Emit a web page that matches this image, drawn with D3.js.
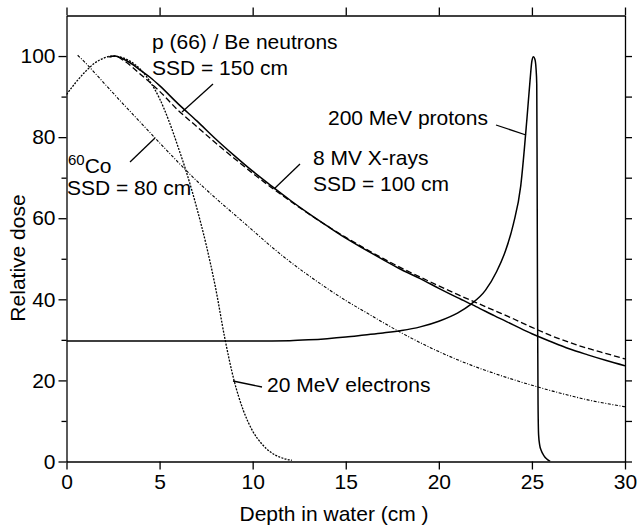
<!DOCTYPE html>
<html>
<head>
<meta charset="utf-8">
<script src="https://cdn.jsdelivr.net/npm/d3@7"></script>
<style>
  html, body { margin: 0; padding: 0; background: #fff; }
  svg { display: block; font-family: "Liberation Sans", Arial, Helvetica, sans-serif; }
</style>
</head>
<body>
<svg id="chart" width="642" height="526"></svg>
<script>
// ---- Data ----
const xTicks = [0, 5, 10, 15, 20, 25, 30];
const yTicksMajor = [0, 20, 40, 60, 80, 100];
const yTicksMinor = [10, 30, 50, 70, 90];
const yTicksRight = [0, 10, 20, 30, 40, 50, 60, 70, 80, 90, 100];

// 8 MV X-rays, SSD = 100 cm (solid)
const xray8Depth = [2.3, 2.6, 3, 3.5, 4, 4.5, 5, 6, 7, 8, 9, 10, 11, 12, 13, 14, 15, 16, 17, 18, 19, 20, 21, 22, 23, 24, 25, 26, 27, 28, 29, 30];
const xray8Dose  = [99.8, 100, 99.4, 98.1, 96.4, 94.7, 92.7, 88.2, 84, 79.6, 75.5, 71.6, 68, 64.5, 61.2, 58.1, 55.1, 52.4, 49.8, 47.3, 45.1, 42.7, 40.4, 38.2, 35.9, 33.7, 31.5, 29.6, 27.8, 26.3, 24.9, 23.6];

// p(66)/Be neutrons, SSD = 150 cm (dashed)
const neutronDepth = [2.3, 2.6, 3, 3.5, 4, 4.5, 5, 6, 7, 8, 9, 10, 11, 12, 13, 14, 15, 16, 17, 18, 19, 20, 21, 22, 23, 24, 25, 26, 27, 28, 29, 30];
const neutronDose  = [99.8, 100, 99.1, 97.4, 95.4, 93.4, 91.3, 86.6, 82.6, 78.6, 74.8, 71.1, 67.6, 64.3, 61.1, 58.1, 55.3, 52.6, 50.1, 47.7, 45.5, 43.3, 41.2, 39.2, 37.2, 35.2, 33.1, 31.1, 29.4, 27.9, 26.6, 25.3];

// 60Co, SSD = 80 cm (dash-dot)
const cobaltDepth = [0.6, 1, 2, 3, 4, 5, 6, 7, 8, 9, 10, 11, 12, 13, 14, 15, 16, 17, 18, 19, 20, 21, 22, 23, 24, 25, 26, 27, 28, 29, 30];
const cobaltDose  = [100.2, 98.4, 93.4, 88.4, 83.5, 78.6, 73.8, 69.2, 65, 61, 57, 53, 49.3, 45.9, 42.7, 39.7, 37, 34.3, 31.7, 29.3, 27.1, 25.1, 23.3, 21.7, 20.2, 18.8, 17.5, 16.3, 15.2, 14.3, 13.5];

// 20 MeV electrons (dotted)
const electronDepth = [0, 0.5, 1, 1.5, 2, 2.5, 3, 3.5, 4, 4.5, 5, 5.5, 6, 6.5, 7, 7.5, 8, 8.5, 9, 9.5, 10, 10.5, 11, 11.5, 12.1];
const electronDose  = [90.5, 93.5, 96.1, 98.2, 99.5, 100, 99.6, 98.5, 96.6, 93.6, 89.5, 84, 77.5, 70.5, 62.5, 53.5, 43, 30.5, 20, 12.6, 7.5, 4.3, 2.2, 1.0, 0.3];

// 200 MeV protons (solid)
const protonDepth = [0, 5, 10, 12, 13, 14, 15, 16, 17, 18, 19, 20, 21, 21.7, 22.5, 23.1, 23.6, 24, 24.4, 24.73, 24.9, 25.0, 25.08, 25.16, 25.22, 25.26, 25.28, 25.3, 25.33, 25.36, 25.42, 25.5, 25.65, 25.8, 25.98];
const protonDose  = [29.7, 29.7, 29.7, 29.8, 30, 30.3, 30.7, 31.2, 31.7, 32.3, 33.2, 34.6, 36.6, 38.7, 42.2, 46.8, 52.2, 58.5, 68, 84.4, 94, 98.8, 99.8, 99.2, 97, 93, 70, 40, 14, 6.5, 4, 2.7, 1.4, 0.6, 0];

// ---- Layout ----
const svg = d3.select("#chart");
const X0 = 66.5, X1 = 625, Y0 = 461.5, Y1 = 15.5;
const x = d3.scaleLinear().domain([0, 30]).range([X0, X1]);
const y = d3.scaleLinear().domain([0, 110]).range([Y0, Y1]);
const FS = 21;

// Axes
const axisStyle = g => {
  g.selectAll("path.domain").attr("stroke", "#000").attr("stroke-width", 1.3);
  g.selectAll(".tick line").attr("stroke", "#000").attr("stroke-width", 1.3);
  g.selectAll(".tick text").attr("fill", "#000").attr("font-size", FS)
    .attr("font-family", '"Liberation Sans", Arial, sans-serif');
};

svg.append("g").attr("transform", `translate(0,${Y0})`)
  .call(d3.axisBottom(x).tickValues(xTicks).tickSize(8).tickSizeOuter(0).tickPadding(5).tickFormat(d3.format("d")))
  .call(axisStyle);
svg.append("g").attr("transform", `translate(0,${Y1})`)
  .call(d3.axisTop(x).tickValues(xTicks).tickSize(8).tickSizeOuter(0).tickFormat(""))
  .call(axisStyle);
svg.append("g").attr("transform", `translate(${X0},0)`)
  .call(d3.axisLeft(y).tickValues(yTicksMajor).tickSize(8).tickSizeOuter(0).tickPadding(3).tickFormat(d3.format("d")))
  .call(axisStyle);
svg.append("g").attr("transform", `translate(${X0},0)`)
  .call(d3.axisLeft(y).tickValues(yTicksMinor).tickSize(5).tickSizeOuter(0).tickFormat(""))
  .call(axisStyle)
  .call(g => g.select("path.domain").remove());
svg.append("g").attr("transform", `translate(${X1},0)`)
  .call(d3.axisRight(y).tickValues(yTicksRight).tickSize(7).tickSizeOuter(0).tickFormat(""))
  .call(axisStyle);

// Axis titles
svg.append("text").attr("x", 334).attr("y", 521)
  .attr("text-anchor", "middle").attr("font-size", FS).text("Depth in water (cm )");
svg.append("text").attr("transform", `translate(25,258) rotate(-90)`)
  .attr("text-anchor", "middle").attr("font-size", FS).text("Relative dose");

// Curves
svg.append("clipPath").attr("id", "clip").append("rect")
  .attr("x", X0).attr("y", Y1).attr("width", X1 - X0).attr("height", Y0 - Y1);
const curves = svg.append("g").attr("clip-path", "url(#clip)");

function drawCurve(depth, dose, curve, width, dash) {
  const pts = depth.map((d, i) => [d, dose[i]]);
  const line = d3.line().x(d => x(d[0])).y(d => y(d[1])).curve(curve);
  curves.append("path").attr("d", line(pts)).attr("fill", "none")
    .attr("stroke", "#000").attr("stroke-width", width)
    .attr("stroke-dasharray", dash || null);
}
drawCurve(cobaltDepth, cobaltDose, d3.curveMonotoneX, 1.1, "3,1.6,1,1.6");
drawCurve(electronDepth, electronDose, d3.curveMonotoneX, 1.3, "2,1.3");
drawCurve(neutronDepth, neutronDose, d3.curveMonotoneX, 1.3, "6,3");
drawCurve(xray8Depth, xray8Dose, d3.curveMonotoneX, 1.5, null);
drawCurve(protonDepth, protonDose, d3.curveMonotoneX, 1.5, null);

// Labels and leader lines
const ann = svg.append("g").attr("font-size", FS).attr("fill", "#000");
function leader(x1, y1, x2, y2) {
  svg.append("line").attr("x1", x1).attr("y1", y1).attr("x2", x2).attr("y2", y2)
    .attr("stroke", "#000").attr("stroke-width", 1.3);
}
ann.append("text").attr("x", 152).attr("y", 49).text("p (66) / Be neutrons");
ann.append("text").attr("x", 152).attr("y", 75).text("SSD = 150 cm");
leader(213, 84, 182, 112);

const co = ann.append("text").attr("x", 68).attr("y", 173);
co.append("tspan").attr("font-size", 15).attr("dy", -8).text("60");
co.append("tspan").attr("dy", 8).text("Co");
ann.append("text").attr("x", 67).attr("y", 195).text("SSD = 80 cm");
leader(130, 162, 155, 138);

ann.append("text").attr("x", 328).attr("y", 125).text("200 MeV protons");
leader(496, 125, 526, 135);

ann.append("text").attr("x", 313).attr("y", 165).text("8 MV X-rays");
ann.append("text").attr("x", 313).attr("y", 191).text("SSD = 100 cm");
leader(300, 164, 274, 189);

ann.append("text").attr("x", 267).attr("y", 392).text("20 MeV electrons");
leader(262, 387, 233, 381);
</script>
</body>
</html>
